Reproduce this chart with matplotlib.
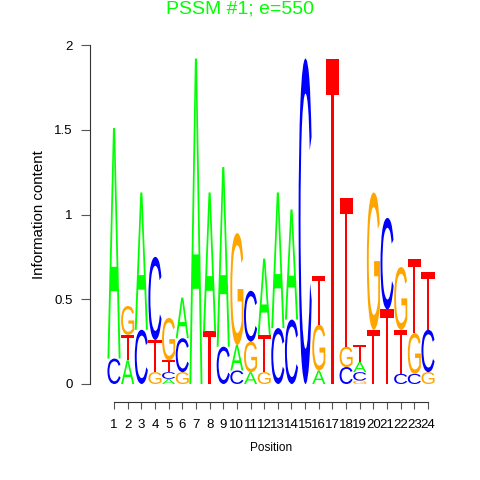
import numpy as np
import matplotlib
matplotlib.use("Agg")
import matplotlib.pyplot as plt
from matplotlib.textpath import TextPath
from matplotlib.patches import PathPatch
from matplotlib.font_manager import FontProperties
from matplotlib.transforms import Affine2D

plt.rcParams["font.family"] = ["Liberation Sans", "DejaVu Sans"]

# information content per letter
positions = list(range(1, 25))
A_ic = [1.36, 0.14, 0.81, 0.00, 0.03, 0.24, 1.92, 0.82, 1.06, 0.15, 0.07, 0.45,
        0.80, 0.65, 0.00, 0.08, 0.00, 0.00, 0.06, 0.00, 0.00, 0.00, 0.00, 0.00]
C_ic = [0.15, 0.00, 0.32, 0.49, 0.04, 0.20, 0.00, 0.00, 0.22, 0.08, 0.30, 0.00,
        0.33, 0.38, 1.92, 0.00, 0.00, 0.10, 0.05, 0.00, 0.54, 0.06, 0.06, 0.25]
G_ic = [0.00, 0.17, 0.00, 0.07, 0.25, 0.07, 0.00, 0.00, 0.00, 0.66, 0.18, 0.07,
        0.00, 0.00, 0.00, 0.27, 0.00, 0.12, 0.02, 0.81, 0.00, 0.37, 0.24, 0.07]
T_ic = [0.00, 0.15, 0.00, 0.19, 0.07, 0.00, 0.00, 0.31, 0.00, 0.00, 0.00, 0.22,
        0.00, 0.00, 0.00, 0.29, 1.92, 0.88, 0.10, 0.32, 0.44, 0.26, 0.44, 0.34]

letter_colors = {"A": "#00FF00", "C": "#0000FF", "G": "#FFA500", "T": "#FF0000"}
title = "PSSM #1; e=550"

glyph_font = FontProperties(family="Liberation Sans")


def draw_letter(ax, ch, x, y0, h, width=0.96):
    path = TextPath((0, 0), ch, size=1, prop=glyph_font)
    bb = path.get_extents()
    tr = (Affine2D()
          .translate(-bb.x0, -bb.y0)
          .scale(width / bb.width, h / bb.height)
          .translate(x - width / 2, y0))
    ax.add_patch(PathPatch(tr.transform_path(path), fc=letter_colors[ch],
                           ec="none", lw=0))


fig = plt.figure(figsize=(4.8, 4.8), dpi=100)
W, H = 480, 480
ax = fig.add_axes([90 / W, (H - 402) / H, 350 / W, (402 - 40) / H])

# pixel-calibrated limits: x=1 -> 114px, x=24 -> 428px ; y=0 -> 384px, y=2 -> 45px
xscale = (428 - 114) / 23
yscale = (384 - 45) / 2
ax.set_xlim(1 - (114 - 90) / xscale, 24 + (440 - 428) / xscale)
ax.set_ylim(-(402 - 384) / yscale, 2 + (45 - 40) / yscale)

for i, p in enumerate(positions):
    stack = [("A", A_ic[i]), ("C", C_ic[i]), ("G", G_ic[i]), ("T", T_ic[i])]
    stack = sorted([s for s in stack if s[1] > 0], key=lambda s: s[1])
    y = 0.0
    for ch, h in stack:
        draw_letter(ax, ch, p, y, h)
        y += h

for s in ["top", "right"]:
    ax.spines[s].set_visible(False)
ax.spines["left"].set_bounds(0, 2)
ax.spines["bottom"].set_bounds(1, 24)
for s in ["left", "bottom"]:
    ax.spines[s].set_color("#333333")
    ax.spines[s].set_linewidth(0.8)

ax.set_yticks([0, 0.5, 1, 1.5, 2])
ax.set_yticklabels(["0", "0.5", "1", "1.5", "2"])
ax.set_xticks(positions)
ax.set_xticklabels([str(p) for p in positions])
ax.tick_params(axis="y", length=6.5, width=0.8, color="#555555", labelsize=9.5, pad=6)
ax.tick_params(axis="x", length=5, width=0.8, color="#555555", labelsize=9.5, pad=7)

ax.set_xlabel("Position", fontsize=8.5, labelpad=8)
ax.set_ylabel("Information content", fontsize=10.8, labelpad=6)
# centre labels on the drawn axis ranges rather than the whole axes box
ax.xaxis.label.set_x((271 - 90) / 350)
ax.yaxis.label.set_y((402 - 214.5) / 362)
fig.text(0.5, 1 - 9 / H, title, color="#00FF00", fontsize=14, ha="center", va="center")

fig.savefig("out.png", dpi=100)
